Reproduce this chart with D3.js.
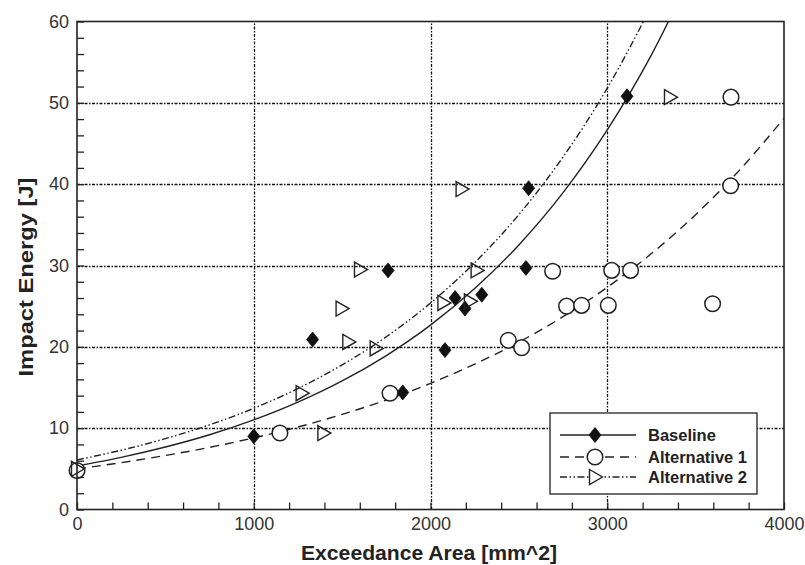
<!DOCTYPE html>
<html><head><meta charset="utf-8">
<script src="https://cdn.jsdelivr.net/npm/d3@7"></script>
<style>body{margin:0;background:#fff}svg{display:block}</style>
</head><body>
<svg id="chart" width="805" height="565"></svg>
<script>
// ---- data ----
const baselineX = [1000, 1333, 1760, 1843, 2082, 2139, 2195, 2290, 2540, 2555, 3112];
const baselineY = [9.0, 20.9, 29.4, 14.4, 19.6, 26.0, 24.7, 26.4, 29.7, 39.5, 50.8];
const alt1X = [0, 1148, 1771, 2440, 2516, 2691, 2770, 2855, 3006, 3025, 3132, 3596, 3698, 3700];
const alt1Y = [4.8, 9.4, 14.3, 20.8, 19.9, 29.3, 25.0, 25.1, 25.1, 29.4, 29.4, 25.3, 39.8, 50.7];
const alt2X = [0, 1271, 1394, 1497, 1535, 1601, 1690, 2073, 2176, 2223, 2261, 3355];
const alt2Y = [5.0, 14.3, 9.4, 24.7, 20.6, 29.5, 19.8, 25.4, 39.4, 25.6, 29.4, 50.7];
// trend curves
const fitX = [0, 250, 500, 750, 1000, 1250, 1500, 1750, 2000, 2250, 2500, 2750, 3000, 3250, 3500, 3750, 4000];
const fitBaseline = [5.35, 6.41, 7.68, 9.19, 11.01, 13.19, 15.80, 18.93, 22.67, 27.16, 32.53, 38.96, 46.67, 55.90, 66.96];
const fitAlt1 = [5.00, 5.76, 6.64, 7.64, 8.81, 10.14, 11.69, 13.46, 15.51, 17.87, 20.58, 23.71, 27.32, 31.47, 36.25, 41.76, 48.11];
const fitAlt2 = [6.10, 7.29, 8.71, 10.41, 12.44, 14.87, 17.78, 21.24, 25.39, 30.34, 36.26, 43.34, 51.80, 61.90];
const xTicks = [0, 1000, 2000, 3000, 4000];
const yTicks = [0, 10, 20, 30, 40, 50, 60];
const seriesNames = ["Baseline", "Alternative 1", "Alternative 2"];
const xTitle = "Exceedance Area [mm^2]";
const yTitle = "Impact Energy [J]";

// ---- drawing ----
const svg = d3.select("#chart");
const x = d3.scaleLinear().domain([0, 4000]).range([77, 784]);
const y = d3.scaleLinear().domain([0, 60]).range([509.5, 21.5]);
const ink = "#222";
const font = "'Liberation Sans', Arial, sans-serif";

svg.append("defs").append("clipPath").attr("id", "clip")
  .append("rect").attr("x", x(0)).attr("y", y(60)).attr("width", x(4000) - x(0)).attr("height", y(0) - y(60));

// grid
const gridDash = "3,1.5,1.5,1.5";
const px = v => Math.round(v) + 0.5;
svg.append("g").selectAll("line").data(xTicks.slice(1, -1)).join("line")
  .attr("x1", d => px(x(d))).attr("x2", d => px(x(d))).attr("y1", y(0)).attr("y2", y(60))
  .attr("stroke", "#111").attr("stroke-width", 1.3).attr("stroke-dasharray", gridDash);
svg.append("g").selectAll("line").data(yTicks.slice(1, -1)).join("line")
  .attr("y1", d => px(y(d))).attr("y2", d => px(y(d))).attr("x1", x(0)).attr("x2", x(4000))
  .attr("stroke", "#111").attr("stroke-width", 1.3).attr("stroke-dasharray", gridDash);

// curves
const styles = [
  { dash: null, fit: fitBaseline },
  { dash: "9,6", fit: fitAlt1 },
  { dash: "7,2.5,1.5,2.5,1.5,2.5", fit: fitAlt2 }
];
const line = d3.line().x(d => x(d[0])).y(d => y(d[1])).curve(d3.curveMonotoneX);
const curves = svg.append("g").attr("clip-path", "url(#clip)");
styles.forEach(s => {
  curves.append("path").datum(s.fit.map((v, i) => [fitX[i], v]))
    .attr("d", line).attr("fill", "none").attr("stroke", ink).attr("stroke-width", 1.4)
    .attr("stroke-dasharray", s.dash);
});

// markers
function diamond(g) {
  g.append("path").attr("d", "M0,-7.5L6,0L0,7.5L-6,0Z").attr("fill", "#111").attr("stroke", "#111").attr("stroke-width", 0.8);
}
function circle(g) {
  g.append("circle").attr("r", 7.8).attr("fill", "#fff").attr("stroke", ink).attr("stroke-width", 1.5);
}
function tri(g) {
  g.append("path").attr("d", "M-5.5,-7.5L7.5,0L-5.5,7.5Z").attr("fill", "none").attr("stroke", ink).attr("stroke-width", 1.4).attr("stroke-linejoin", "miter");
}
const markerFns = [diamond, circle, tri];
const ptsSets = [
  baselineX.map((v, i) => [v, baselineY[i]]),
  alt1X.map((v, i) => [v, alt1Y[i]]),
  alt2X.map((v, i) => [v, alt2Y[i]])
];
[0, 1, 2].forEach(k => {
  const g = svg.append("g");
  ptsSets[k].forEach(p => {
    const m = g.append("g").attr("transform", `translate(${x(p[0])},${y(p[1])})`);
    markerFns[k](m);
  });
});

// axes: minor ticks
const xMinor = d3.range(0, 4001, 200);
const yMinor = d3.range(0, 61, 2);
svg.append("g").attr("transform", `translate(0,${y(0)})`)
  .call(d3.axisBottom(x).tickValues(xMinor).tickSizeInner(-7).tickSizeOuter(0).tickFormat(""))
  .call(g => g.selectAll("line").attr("stroke", ink).attr("stroke-width", 1.3))
  .call(g => g.select(".domain").remove());
svg.append("g").attr("transform", `translate(${x(0)},0)`)
  .call(d3.axisLeft(y).tickValues(yMinor).tickSizeInner(-7).tickSizeOuter(0).tickFormat(""))
  .call(g => g.selectAll("line").attr("stroke", ink).attr("stroke-width", 1.3))
  .call(g => g.select(".domain").remove());

// frame
svg.append("rect").attr("x", x(0)).attr("y", y(60)).attr("width", x(4000) - x(0)).attr("height", y(0) - y(60))
  .attr("fill", "none").attr("stroke", ink).attr("stroke-width", 1.6);

// tick labels
const xAx = svg.append("g").attr("transform", `translate(0,${y(0)})`)
  .call(d3.axisBottom(x).tickValues(xTicks).tickSize(0).tickPadding(8).tickFormat(d3.format("d")));
xAx.select(".domain").remove();
xAx.selectAll("text").attr("font-family", font).attr("font-size", 18).attr("fill", "#333");
const yAx = svg.append("g").attr("transform", `translate(${x(0)},0)`)
  .call(d3.axisLeft(y).tickValues(yTicks).tickSize(0).tickPadding(8).tickFormat(d3.format("d")));
yAx.select(".domain").remove();
yAx.selectAll("text").attr("font-family", font).attr("font-size", 18).attr("fill", "#333");

// axis titles
svg.append("text").attr("x", 429).attr("y", 560).attr("text-anchor", "middle")
  .attr("font-family", font).attr("font-weight", "bold").attr("font-size", 21).attr("fill", ink)
  .attr("textLength", 256).attr("lengthAdjust", "spacingAndGlyphs").text(xTitle);
svg.append("text").attr("transform", `translate(33,277) rotate(-90)`).attr("text-anchor", "middle")
  .attr("font-family", font).attr("font-weight", "bold").attr("font-size", 21).attr("fill", ink)
  .attr("textLength", 199).attr("lengthAdjust", "spacingAndGlyphs").text(yTitle);

// legend
const lg = svg.append("g");
lg.append("rect").attr("x", 550).attr("y", 413).attr("width", 207).attr("height", 81)
  .attr("fill", "#fff").attr("stroke", ink).attr("stroke-width", 1.3);
const legY = [435, 457, 477];
seriesNames.forEach((name, i) => {
  lg.append("line").attr("x1", 560).attr("x2", 636).attr("y1", legY[i]).attr("y2", legY[i])
    .attr("stroke", ink).attr("stroke-width", 1.4).attr("stroke-dasharray", styles[i].dash);
  const m = lg.append("g").attr("transform", `translate(595,${legY[i]})`);
  if (i === 2) m.append("rect").attr("x", -6).attr("y", -8).attr("width", 14).attr("height", 16).attr("fill", "#fff");
  markerFns[i](m);
  lg.append("text").attr("x", 648).attr("y", legY[i]).attr("dy", "0.35em")
    .attr("font-family", font).attr("font-weight", "bold").attr("font-size", 16.5).attr("fill", ink).text(name);
});
</script>
</body></html>
